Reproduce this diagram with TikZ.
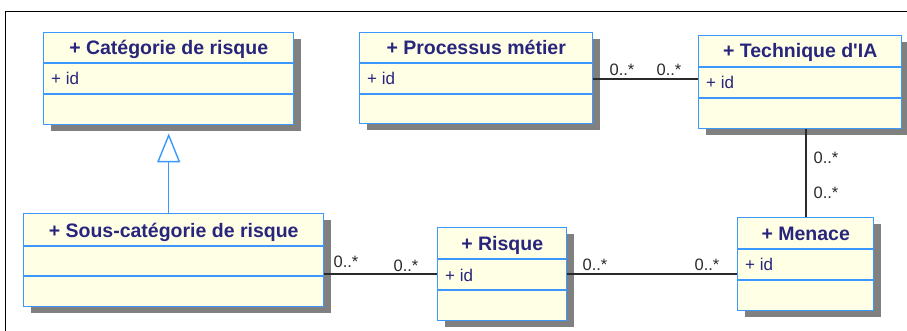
\documentclass[tikz,border=0pt]{standalone}
\usepackage{fontspec}
\setmainfont{Liberation Sans}
\usetikzlibrary{shadows,arrows.meta}

\definecolor{umlblue}{HTML}{3A98FF}
\definecolor{umlfill}{HTML}{FFFFE6}
\definecolor{umlshadow}{HTML}{808080}
\definecolor{umlink}{HTML}{28257C}
\definecolor{linkink}{HTML}{2A2A2A}

\tikzset{
  classbox/.style={draw=umlblue, fill=umlfill, line width=1.4pt, inner sep=0pt,
    anchor=north west,
    general shadow={fill=umlshadow, shadow xshift=7pt, shadow yshift=-6pt}},
  sepline/.style={draw=umlblue, line width=1.4pt},
  classtitle/.style={font=\fontsize{19.5}{21}\selectfont\bfseries, text=umlink,
    inner sep=0pt, anchor=base},
  attrtext/.style={font=\fontsize{17}{19}\selectfont, text=umlink, inner sep=0pt,
    anchor=base west},
  assoc/.style={draw=linkink, line width=1.3pt},
  mult/.style={font=\fontsize{16.5}{18}\selectfont, text=linkink, inner sep=0pt},
  genline/.style={draw=umlblue, line width=1.4pt,
    -{Triangle[length=29pt, width=23pt, fill=white]}},
}

\begin{document}
\begin{tikzpicture}[x=1pt, y=-1pt]
\useasboundingbox (0,0) rectangle (907,331);

% outer frame (top and left edges)
\draw[line width=1pt, black] (5,331) -- (5,12) -- (907,12);

% Catégorie de risque
\node[classbox, minimum width=250pt, minimum height=92pt] (cat) at (43,32) {};
\draw[sepline] ([yshift=-31pt]cat.north west) -- ([yshift=-31pt]cat.north east);
\draw[sepline] ([yshift=-62pt]cat.north west) -- ([yshift=-62pt]cat.north east);
\node[classtitle] (catT) at ([yshift=-23pt]cat.north) {+ Catégorie de risque};
\node[attrtext] (catA) at ([xshift=8pt,yshift=-53pt]cat.north west) {+ id};

% Processus métier
\node[classbox, minimum width=233pt, minimum height=91pt] (proc) at (359,32) {};
\draw[sepline] ([yshift=-31pt]proc.north west) -- ([yshift=-31pt]proc.north east);
\draw[sepline] ([yshift=-62pt]proc.north west) -- ([yshift=-62pt]proc.north east);
\node[classtitle] (procT) at ([yshift=-22.5pt]proc.north) {+ Processus métier};
\node[attrtext] (procA) at ([xshift=8pt,yshift=-53pt]proc.north west) {+ id};

% Technique d'IA
\node[classbox, minimum width=203pt, minimum height=93pt] (tech) at (698,35) {};
\draw[sepline] ([yshift=-32pt]tech.north west) -- ([yshift=-32pt]tech.north east);
\draw[sepline] ([yshift=-63pt]tech.north west) -- ([yshift=-63pt]tech.north east);
\node[classtitle] (techT) at ([yshift=-23pt]tech.north) {+ Technique d\textquotesingle IA};
\node[attrtext] (techA) at ([xshift=8pt,yshift=-54pt]tech.north west) {+ id};

% Sous-catégorie de risque
\node[classbox, minimum width=300pt, minimum height=93pt] (sous) at (23,213) {};
\draw[sepline] ([yshift=-33pt]sous.north west) -- ([yshift=-33pt]sous.north east);
\draw[sepline] ([yshift=-63pt]sous.north west) -- ([yshift=-63pt]sous.north east);
\node[classtitle] (sousT) at ([yshift=-24pt]sous.north) {+ Sous-catégorie de risque};

% Risque
\node[classbox, minimum width=129pt, minimum height=93pt] (risque) at (437,227) {};
\draw[sepline] ([yshift=-32pt]risque.north west) -- ([yshift=-32pt]risque.north east);
\draw[sepline] ([yshift=-63pt]risque.north west) -- ([yshift=-63pt]risque.north east);
\node[classtitle] (risqueT) at ([yshift=-23pt]risque.north) {+ Risque};
\node[attrtext] (risqueA) at ([xshift=8pt,yshift=-54pt]risque.north west) {+ id};

% Menace
\node[classbox, minimum width=136pt, minimum height=93pt] (menace) at (737,217) {};
\draw[sepline] ([yshift=-32pt]menace.north west) -- ([yshift=-32pt]menace.north east);
\draw[sepline] ([yshift=-63pt]menace.north west) -- ([yshift=-63pt]menace.north east);
\node[classtitle] (menaceT) at ([yshift=-23pt]menace.north) {+ Menace};
\node[attrtext] (menaceA) at ([xshift=8pt,yshift=-53pt]menace.north west) {+ id};

% generalisation: Sous-catégorie -> Catégorie
\draw[genline] (cat.south |- sous.north) -- ([yshift=-8pt]cat.south);

% associations
\draw[assoc] (proc.east |- 0,79) -- (tech.west |- 0,79);
\node[mult] (m1) at (622,70) {0..*};
\node[mult] (m2) at (669,70) {0..*};

\draw[assoc] (tech.south -| 806,0) -- (menace.north -| 806,0);
\node[mult] (m3) at (826,158) {0..*};
\node[mult] (m4) at (826,193) {0..*};

\draw[assoc] (sous.east |- 0,274) -- (risque.west |- 0,274);
\node[mult] (m5) at (346,262) {0..*};
\node[mult] (m6) at (406,266) {0..*};

\draw[assoc] (risque.east |- 0,274) -- (menace.west |- 0,274);
\node[mult] (m7) at (595,265) {0..*};
\node[mult] (m8) at (707,265) {0..*};
\end{tikzpicture}
\end{document}
